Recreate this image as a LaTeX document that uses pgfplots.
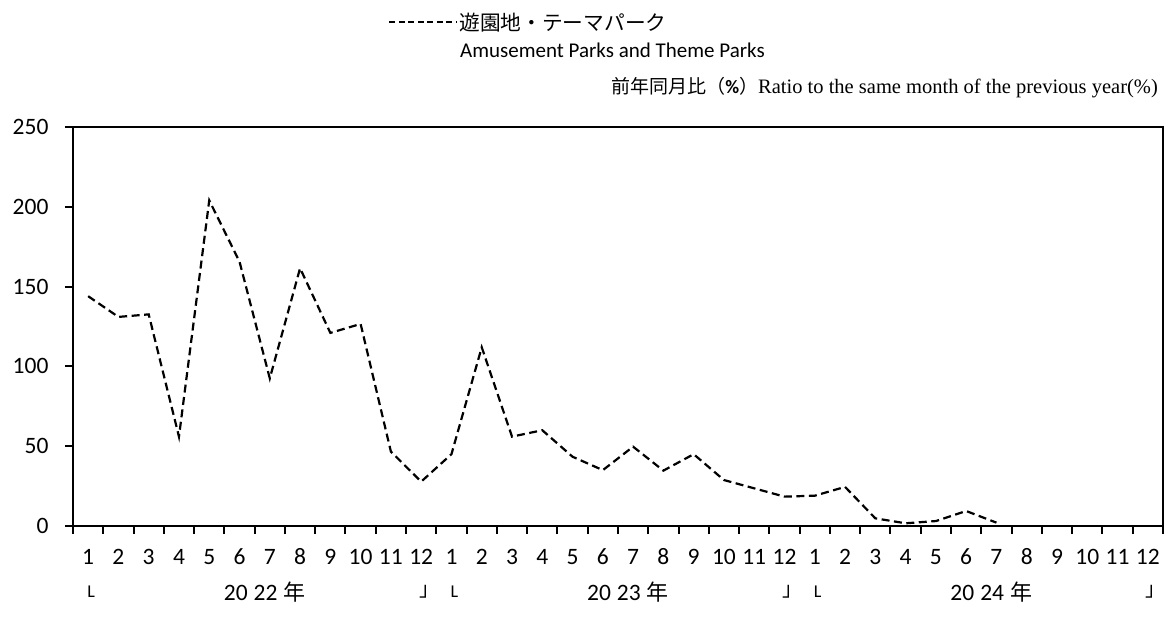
\documentclass[border=0pt]{standalone}
\usepackage{fontspec}
\setmainfont{Carlito}
\newfontfamily\jp{Noto Sans CJK JP}
\newfontfamily\tms{Liberation Serif}
\usepackage{pgfplots}
\pgfplotsset{compat=1.18}
\newcommand{\yr}[1]{20\hspace{6pt}#1\rlap{\hspace{6pt}{\jp\fontsize{22}{22}\selectfont 年}}}
\begin{document}
\begin{tikzpicture}[x=1pt,y=1pt]
\useasboundingbox (-73,-93) rectangle (1097,526);
\begin{axis}[
  at={(0,0)}, anchor=south west,
  scale only axis, width=1090pt, height=399pt,
  xmin=0.5, xmax=36.5, ymin=0, ymax=250,
  clip=false,
  tick pos=left,
  tick align=outside,
  major tick length=8pt,
  ytick={0,50,100,150,200,250},
  xtick={0.5,1.5,...,36.5},
  xticklabels={},
  extra x ticks={1,2,...,36},
  extra x tick labels={1,2,3,4,5,6,7,8,9,10,11,12,1,2,3,4,5,6,7,8,9,10,11,12,1,2,3,4,5,6,7,8,9,10,11,12},
  extra x tick style={major tick length=0pt, tick style={draw=none}, grid=none},
  every tick/.style={black, line width=2pt},
  axis line style={black, line width=2.4pt},
  /pgf/number format/assume math mode=true,
  ticklabel style={font=\fontsize{23.5}{23.5}\selectfont},
  xticklabel style={anchor=center, yshift=-31pt},
  yticklabel style={xshift=-13pt},
  legend style={at={(axis description cs:0.289,1.263)}, anchor=west, draw=none, fill=none, inner sep=0pt,
    font=\jp\fontsize{20.7}{20.7}\selectfont},
  legend image code/.code={\draw[#1, dash pattern=on 6pt off 3.5pt] (0pt,0pt) -- (67pt,0pt);},
]
\addplot[black, line width=2.2pt, dash pattern=on 8pt off 4.5pt] coordinates {
(1,144) (2,131) (3,132.6) (4,56) (5,204) (6,165.6) (7,92.5) (8,161.5) (9,121) (10,126.6)
(11,46.6) (12,27.8) (13,45) (14,112) (15,56) (16,60) (17,43.4) (18,35) (19,49.7) (20,34.7)
(21,45) (22,28.8) (23,23.6) (24,18.4) (25,19) (26,24.5) (27,4.8) (28,1.7) (29,3.1) (30,9.4) (31,2.1)
};
\addlegendentry{遊園地・テーマパーク}
\node[font=\fontsize{18}{18}\selectfont] at (axis cs:1,0) [yshift=-66pt, xshift=3pt] {L};
\node[font=\jp\fontsize{20}{20}\selectfont] at (axis cs:12,0) [yshift=-66pt, xshift=3pt] {｣};
\node[font=\fontsize{18}{18}\selectfont] at (axis cs:13,0) [yshift=-66pt, xshift=3pt] {L};
\node[font=\jp\fontsize{20}{20}\selectfont] at (axis cs:24,0) [yshift=-66pt, xshift=3pt] {｣};
\node[font=\fontsize{18}{18}\selectfont] at (axis cs:25,0) [yshift=-66pt, xshift=3pt] {L};
\node[font=\jp\fontsize{20}{20}\selectfont] at (axis cs:36,0) [yshift=-66pt, xshift=3pt] {｣};
\node[font=\fontsize{23.5}{23.5}\selectfont] at (axis cs:6.5,0) [yshift=-66pt, xshift=-4pt] {\yr{22}};
\node[font=\fontsize{23.5}{23.5}\selectfont] at (axis cs:18.5,0) [yshift=-66pt, xshift=-4pt] {\yr{23}};
\node[font=\fontsize{23.5}{23.5}\selectfont] at (axis cs:30.5,0) [yshift=-66pt, xshift=-4pt] {\yr{24}};
\end{axis}
\node[anchor=west, inner sep=0pt, font=\fontsize{21}{21}\selectfont] at (387,476) {Amusement Parks and Theme Parks};
\node[anchor=east, inner sep=0pt] at (1085,438) {{\jp\fontsize{19}{19}\selectfont 前年同月比（}{\fontsize{19}{19}\selectfont\bfseries\%}{\jp\fontsize{19}{19}\selectfont ）}{\tms\fontsize{20.5}{20.5}\selectfont Ratio to the same month of the previous year(\%)}};
\end{tikzpicture}
\end{document}
